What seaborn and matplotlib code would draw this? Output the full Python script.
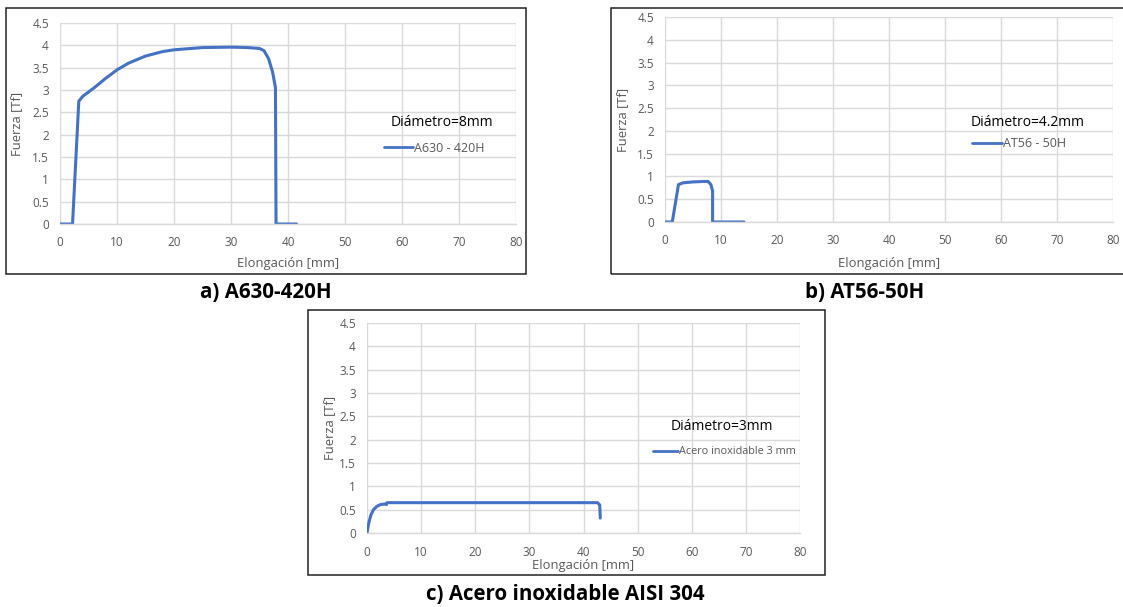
import matplotlib
matplotlib.use("Agg")
import matplotlib.pyplot as plt
import seaborn as sns
from matplotlib.patches import Rectangle
from matplotlib.lines import Line2D

# ---------------- data ----------------
a_x = [0, 2.2, 3.3, 4.0, 6.0, 8.0, 10.0, 12.0, 15.0, 18.0, 20.0, 25.0, 30.0, 33.0, 35.0, 35.8, 36.6, 37.3, 37.8, 37.9, 41.5]
a_y = [0, 0, 2.75, 2.86, 3.05, 3.26, 3.45, 3.6, 3.76, 3.86, 3.9, 3.95, 3.96, 3.95, 3.93, 3.88, 3.7, 3.4, 3.05, 0.0, 0.0]

b_x = [0, 1.3, 2.4, 3.2, 5.0, 7.0, 7.7, 8.2, 8.5, 8.5, 14.1]
b_y = [0, 0, 0.82, 0.86, 0.88, 0.89, 0.89, 0.82, 0.68, 0.0, 0.0]

c_x = [0, 0.3, 0.7, 1.2, 1.8, 2.5, 3.3, 3.6, 3.7, 10, 20, 30, 42.6, 43.0, 43.1]
c_y = [0, 0.2, 0.38, 0.5, 0.57, 0.61, 0.62, 0.61, 0.65, 0.65, 0.65, 0.65, 0.65, 0.6, 0.32]

series_labels = ["A630 - 420H", "AT56 - 50H", "Acero inoxidable 3 mm"]
diameters = ["Diámetro=8mm", "Diámetro=4.2mm", "Diámetro=3mm"]
panel_titles = ["a) A630-420H", "b) AT56-50H", "c) Acero inoxidable AISI 304"]
x_ticks = [0, 10, 20, 30, 40, 50, 60, 70, 80]
y_ticks = [0, 0.5, 1, 1.5, 2, 2.5, 3, 3.5, 4, 4.5]
y_ticklabels = ["0", "0.5", "1", "1.5", "2", "2.5", "3", "3.5", "4", "4.5"]
x_label = "Elongación [mm]"
y_label = "Fuerza [Tf]"

# ---------------- style ----------------
sns.set_style("white")
plt.rcParams["font.family"] = ["Open Sans", "DejaVu Sans"]

W, H = 1123, 607
fig = plt.figure(figsize=(W / 100, H / 100), dpi=100)
fig.patch.set_facecolor("white")

BLUE = "#4472C4"
GRID = "#d9d9d9"
TXT = "#595959"


def fx(px):
    return px / W


def fy(py):
    return 1 - py / H


def add_ax(l, r, t, b):
    return fig.add_axes([fx(l), fy(b), fx(r) - fx(l), fy(t) - fy(b)])


def box(l, r, t, b):
    fig.patches.append(Rectangle((fx(l), fy(b)), fx(r) - fx(l), fy(t) - fy(b),
                                 transform=fig.transFigure, fill=False,
                                 edgecolor="#222222", linewidth=1.1, zorder=0))


panels = [
    dict(x=a_x, y=a_y, ax=(60, 516, 23, 224), box=(6, 526, 8, 274),
         title=(266, 293), dia=(391, 123), leg=(384, 148), ylab=17, xlab=264,
         lab=series_labels[0], d=diameters[0], t=panel_titles[0], hl=2.3, lfs=9),
    dict(x=b_x, y=b_y, ax=(665, 1113, 17, 222), box=(611, 1126, 8, 274),
         title=(865, 293), dia=(971, 122), leg=(972, 144), ylab=623, xlab=263,
         lab=series_labels[1], d=diameters[1], t=panel_titles[1], hl=2.4, lfs=9),
    dict(x=c_x, y=c_y, ax=(367, 800, 323, 533), box=(308, 825, 310, 575),
         title=(565, 594), dia=(671, 427), leg=(653, 452), ylab=330, xlab=566,
         lab=series_labels[2], d=diameters[2], t=panel_titles[2], hl=2.3, lfs=7.8),
]

for p in panels:
    l, r, t, b = p["ax"]
    ax = add_ax(l, r, t, b)
    box(*p["box"])
    sns.lineplot(x=p["x"], y=p["y"], sort=False, estimator=None, ax=ax,
                 color=BLUE, linewidth=2.2, solid_capstyle="round",
                 solid_joinstyle="round")
    ax.set_xlim(0, 80)
    ax.set_ylim(0, 4.5)
    ax.set_xticks(x_ticks)
    ax.set_yticks(y_ticks)
    ax.set_yticklabels(y_ticklabels)
    ax.grid(True, color=GRID, linewidth=1.0)
    ax.set_axisbelow(True)
    for s in ["top", "right", "left"]:
        ax.spines[s].set_visible(False)
    ax.spines["bottom"].set_color(GRID)
    ax.spines["bottom"].set_linewidth(1.0)
    ax.tick_params(axis="both", length=0, labelsize=8.5, labelcolor=TXT)
    ax.tick_params(axis="x", pad=9)
    ax.tick_params(axis="y", pad=8)
    ax.set_xlabel(x_label, fontsize=9.4, color=TXT)
    ax.set_ylabel(y_label, fontsize=9.4, color=TXT)
    aw, ah = r - l, b - t
    ax.xaxis.set_label_coords(((l + r) / 2 - l) / aw, (b - p["xlab"]) / ah)
    ax.yaxis.set_label_coords((p["ylab"] - l) / aw, 0.5)
    ax.xaxis.label.set_verticalalignment("center")
    ax.yaxis.label.set_verticalalignment("center")

    # diameter text
    fig.text(fx(p["dia"][0]), fy(p["dia"][1]), p["d"], fontsize=10,
             color="black", ha="left", va="center")
    # legend
    handle = Line2D([0], [0], color=BLUE, linewidth=2.0)
    ax.legend([handle], [p["lab"]], loc="center left",
              bbox_to_anchor=(fx(p["leg"][0]), fy(p["leg"][1])),
              bbox_transform=fig.transFigure, frameon=False,
              fontsize=p["lfs"], labelcolor=TXT, handlelength=p["hl"],
              handletextpad=0.1, borderpad=0, borderaxespad=0)

    # panel caption
    fig.text(fx(p["title"][0]), fy(p["title"][1]), p["t"], fontsize=14.8,
             fontweight="bold", color="black", ha="center", va="center")

fig.savefig("out.png", dpi=100, facecolor="white")
